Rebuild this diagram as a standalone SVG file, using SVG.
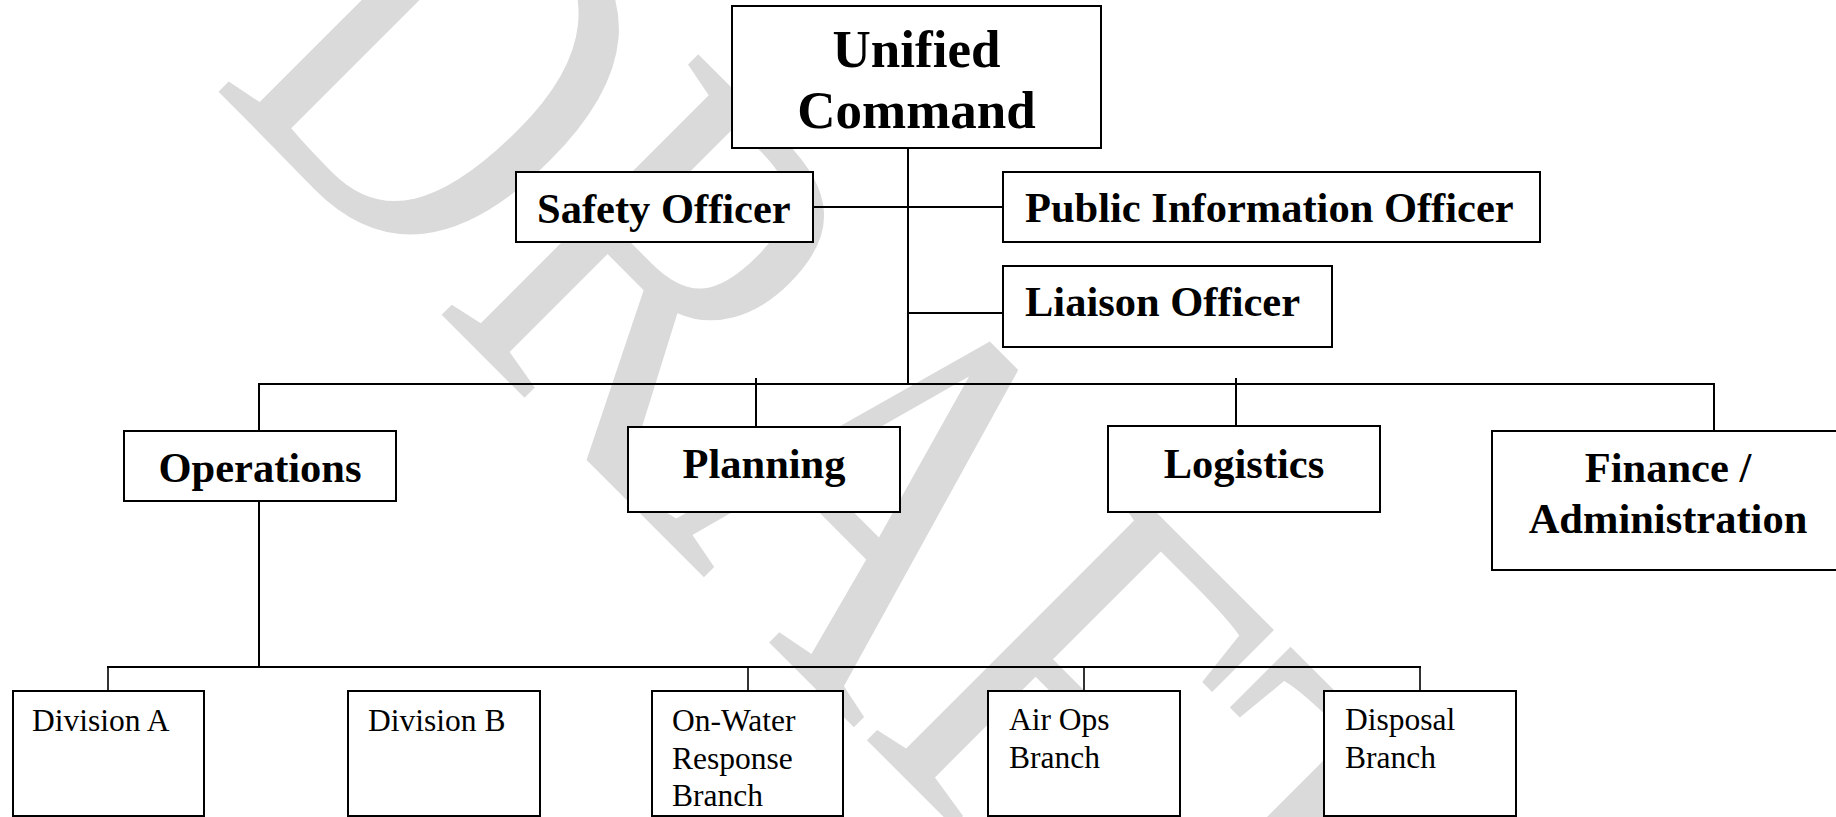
<svg xmlns="http://www.w3.org/2000/svg" width="1836" height="817" viewBox="0 0 1836 817">
  <style>
    .box { fill: #ffffff; stroke: #000000; stroke-width: 2; }
    .ln { stroke: #000000; stroke-width: 2; fill: none; }
    .ln2 { stroke: #000000; stroke-width: 1.6; fill: none; }
    .hb { font-family: "Liberation Serif", "Times New Roman", serif; font-weight: bold; font-size: 42.5px; fill: #000; }
    .hu { font-family: "Liberation Serif", "Times New Roman", serif; font-weight: bold; font-size: 53px; fill: #000; }
    .sm { font-family: "Liberation Serif", "Times New Roman", serif; font-size: 31.5px; fill: #000; }
    .wm { font-family: "Liberation Serif", "Times New Roman", serif; font-size: 433px; fill: #dadada; }
  </style>
  <rect x="0" y="0" width="1836" height="817" fill="#ffffff"/>
  <text class="wm" transform="translate(209.7 83) rotate(45) scale(1 1.29)" x="0" y="0">DRAFT</text>

  <g id="connectors">
    <line class="ln" x1="908" y1="148" x2="908" y2="384"/>
    <line class="ln" x1="813" y1="207" x2="1003" y2="207"/>
    <line class="ln" x1="908" y1="313" x2="1003" y2="313"/>
    <line class="ln" x1="258" y1="384" x2="1715" y2="384"/>
    <line class="ln" x1="259" y1="384" x2="259" y2="431"/>
    <line class="ln" x1="756" y1="378" x2="756" y2="427"/>
    <line class="ln" x1="1236" y1="378" x2="1236" y2="426"/>
    <line class="ln" x1="1714" y1="384" x2="1714" y2="431"/>
    <line class="ln" x1="259" y1="501" x2="259" y2="667"/>
    <line class="ln" x1="107" y1="667" x2="1421" y2="667"/>
    <line class="ln2" x1="108" y1="667" x2="108" y2="691"/>
    <line class="ln2" x1="748" y1="667" x2="748" y2="691"/>
    <line class="ln2" x1="1084" y1="667" x2="1084" y2="691"/>
    <line class="ln2" x1="1420" y1="667" x2="1420" y2="691"/>
  </g>

  <g id="unified-command">
    <rect class="box" x="732" y="6" width="369" height="142"/>
    <text class="hu" x="916.5" y="67" text-anchor="middle">Unified</text>
    <text class="hu" x="916.5" y="128" text-anchor="middle">Command</text>
  </g>
  <g id="safety-officer">
    <rect class="box" x="516" y="172" width="297" height="70"/>
    <text class="hb" x="537" y="223">Safety Officer</text>
  </g>
  <g id="public-information-officer">
    <rect class="box" x="1003" y="172" width="537" height="70"/>
    <text class="hb" x="1025" y="222">Public Information Officer</text>
  </g>
  <g id="liaison-officer">
    <rect class="box" x="1003" y="266" width="329" height="81"/>
    <text class="hb" x="1025" y="316">Liaison Officer</text>
  </g>
  <g id="operations">
    <rect class="box" x="124" y="431" width="272" height="70"/>
    <text class="hb" x="260" y="482" text-anchor="middle">Operations</text>
  </g>
  <g id="planning">
    <rect class="box" x="628" y="427" width="272" height="85"/>
    <text class="hb" x="764" y="478" text-anchor="middle">Planning</text>
  </g>
  <g id="logistics">
    <rect class="box" x="1108" y="426" width="272" height="86"/>
    <text class="hb" x="1244" y="478" text-anchor="middle">Logistics</text>
  </g>
  <g id="finance-administration">
    <rect class="box" x="1492" y="431" width="352" height="139"/>
    <text class="hb" x="1668" y="482" text-anchor="middle">Finance /</text>
    <text class="hb" x="1668" y="532.5" text-anchor="middle">Administration</text>
  </g>
  <g id="division-a">
    <rect class="box" x="13" y="691" width="191" height="125"/>
    <text class="sm" x="32" y="731">Division A</text>
  </g>
  <g id="division-b">
    <rect class="box" x="348" y="691" width="192" height="125"/>
    <text class="sm" x="368" y="731">Division B</text>
  </g>
  <g id="on-water-response-branch">
    <rect class="box" x="652" y="691" width="191" height="125"/>
    <text class="sm" x="672" y="731">On-Water</text>
    <text class="sm" x="672" y="768.5">Response</text>
    <text class="sm" x="672" y="806">Branch</text>
  </g>
  <g id="air-ops-branch">
    <rect class="box" x="988" y="691" width="192" height="125"/>
    <text class="sm" x="1009" y="730">Air Ops</text>
    <text class="sm" x="1009" y="768">Branch</text>
  </g>
  <g id="disposal-branch">
    <rect class="box" x="1324" y="691" width="192" height="125"/>
    <text class="sm" x="1345" y="730">Disposal</text>
    <text class="sm" x="1345" y="768">Branch</text>
  </g>
</svg>
